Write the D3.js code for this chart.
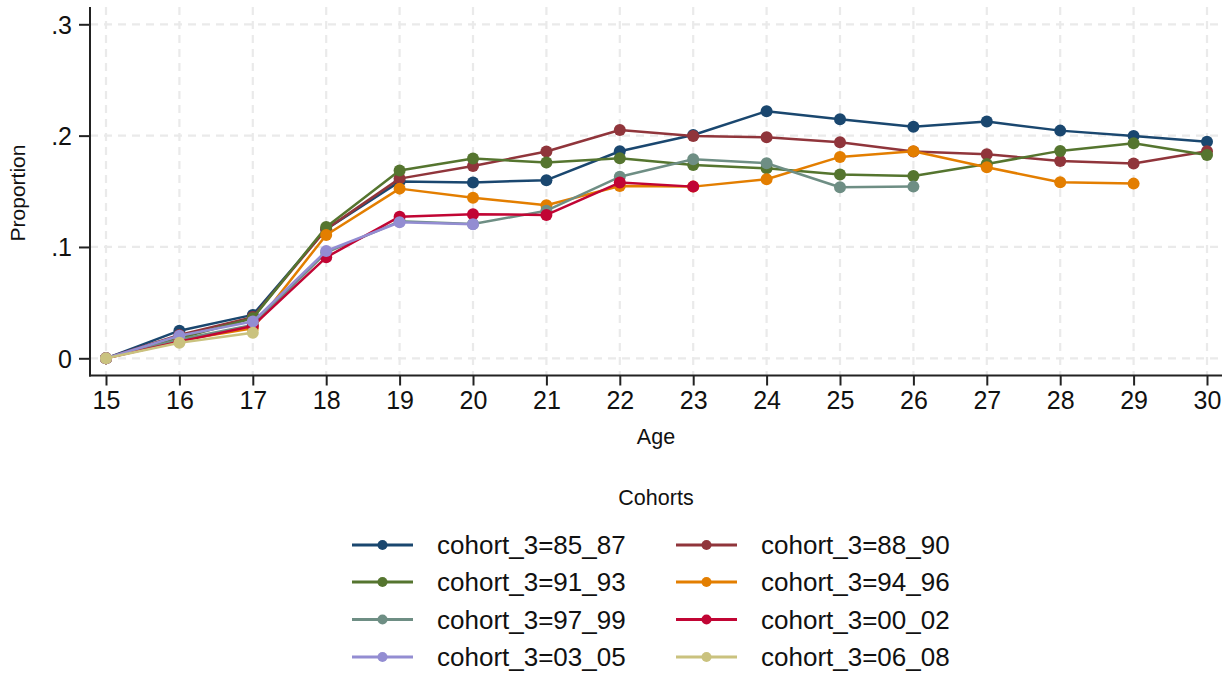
<!DOCTYPE html>
<html>
<head>
<meta charset="utf-8">
<script src="https://cdn.jsdelivr.net/npm/d3@7"></script>
<style>
  html, body { margin: 0; padding: 0; background: #fff; }
  svg { display: block; font-family: "Liberation Sans", Arial, sans-serif; }
</style>
</head>
<body>
<svg id="chart" width="1227" height="675"></svg>
<script>
// Ages on the horizontal axis
const ages = [15, 16, 17, 18, 19, 20, 21, 22, 23, 24, 25, 26, 27, 28, 29, 30];

// Proportion by age, one array per birth cohort (null = not observed)
const c85_87 = [0, 0.0248, 0.039, 0.116, 0.1587, 0.158, 0.160, 0.186, 0.2006, 0.222, 0.2147, 0.208, 0.2126, 0.2045, 0.1997, 0.1946];
const c88_90 = [0, 0.021, 0.037, 0.116, 0.1614, 0.1728, 0.1857, 0.205, 0.1997, 0.1985, 0.194, 0.1857, 0.1833, 0.1773, 0.175, 0.186];
const c91_93 = [0, 0.018, 0.036, 0.118, 0.1686, 0.1794, 0.1758, 0.1797, 0.1737, 0.1707, 0.165, 0.1638, 0.1746, 0.1863, 0.1932, 0.1827];
const c94_96 = [0, 0.016, 0.027, 0.1108, 0.1524, 0.1443, 0.1375, 0.1548, 0.1542, 0.1608, 0.1809, 0.186, 0.1716, 0.1581, 0.1569, null];
const c97_99 = [0, 0.017, 0.030, 0.095, 0.123, 0.1206, 0.1326, 0.163, 0.1788, 0.1752, 0.1536, 0.1542, null, null, null, null];
const c00_02 = [0, 0.015, 0.029, 0.0907, 0.1272, 0.1294, 0.1288, 0.1578, 0.1542, null, null, null, null, null, null, null];
const c03_05 = [0, 0.0203, 0.033, 0.0964, 0.1222, 0.1204, null, null, null, null, null, null, null, null, null, null];
const c06_08 = [0, 0.014, 0.023, null, null, null, null, null, null, null, null, null, null, null, null, null];

const cohortLabels = ["cohort_3=85_87", "cohort_3=88_90", "cohort_3=91_93", "cohort_3=94_96",
                      "cohort_3=97_99", "cohort_3=00_02", "cohort_3=03_05", "cohort_3=06_08"];
const cohortColors = ["#1a476f", "#90353b", "#55752f", "#e37e00",
                      "#6e8e84", "#c10534", "#938dd2", "#cac27e"];
const cohortValues = [c85_87, c88_90, c91_93, c94_96, c97_99, c00_02, c03_05, c06_08];

// Y-axis ticks and their labels
const yTicks = [0, 0.1, 0.2, 0.3];
const yTickLabels = ["0", ".1", ".2", ".3"];

const svg = d3.select("#chart");

const plot = { left: 90, right: 1222, top: 7, bottom: 375.5 };
const x = d3.scaleLinear().domain([15, 30]).range([106, 1207]);
const y = d3.scaleLinear().domain([0, 0.3]).range([358.3, 24.3]);

const gridColor = "#eaeaea";

// Dashed grid
const grid = svg.append("g");
grid.selectAll("line.gy").data(yTicks).join("line")
  .attr("x1", plot.left).attr("x2", plot.right)
  .attr("y1", d => y(d)).attr("y2", d => y(d))
  .attr("stroke", gridColor).attr("stroke-width", 2.2)
  .attr("stroke-dasharray", "8,6");
grid.selectAll("line.gx").data(ages).join("line")
  .attr("x1", d => x(d)).attr("x2", d => x(d))
  .attr("y1", plot.top).attr("y2", plot.bottom)
  .attr("stroke", gridColor).attr("stroke-width", 2.2)
  .attr("stroke-dasharray", "8,6");

// Axes
const xAxis = svg.append("g")
  .attr("transform", `translate(0,${plot.bottom})`)
  .call(d3.axisBottom(x).tickValues(ages).tickFormat(d3.format("d")).tickSize(10).tickSizeOuter(0).tickPadding(6));
const yAxis = svg.append("g")
  .attr("transform", `translate(${plot.left},0)`)
  .call(d3.axisLeft(y).tickValues(yTicks).tickFormat((d, i) => yTickLabels[i]).tickSize(11).tickSizeOuter(0).tickPadding(7));

[xAxis, yAxis].forEach(g => {
  g.select(".domain").remove();
  g.selectAll(".tick line").attr("stroke", "#222").attr("stroke-width", 2);
  g.selectAll(".tick text").attr("fill", "#111").style("font-size", "25px")
    .style("font-family", "'Liberation Sans', Arial, sans-serif");
});
yAxis.selectAll(".tick text").attr("dy", "0.36em");

svg.append("line")
  .attr("x1", plot.left).attr("x2", plot.left)
  .attr("y1", plot.top).attr("y2", plot.bottom + 1)
  .attr("stroke", "#222").attr("stroke-width", 2);
svg.append("line")
  .attr("x1", plot.left - 1).attr("x2", plot.right)
  .attr("y1", plot.bottom).attr("y2", plot.bottom)
  .attr("stroke", "#222").attr("stroke-width", 2);

// Axis titles
svg.append("text")
  .attr("x", 656).attr("y", 444)
  .attr("text-anchor", "middle").style("font-size", "21.5px").attr("fill", "#111")
  .text("Age");
svg.append("text")
  .attr("transform", "translate(25,193) rotate(-90)")
  .attr("text-anchor", "middle").style("font-size", "21px").attr("fill", "#111")
  .text("Proportion");

// Series lines and markers
const line = d3.line()
  .defined(d => d.v !== null)
  .x(d => x(d.age)).y(d => y(d.v));

cohortValues.forEach((vals, i) => {
  const pts = ages.map((a, j) => ({ age: a, v: vals[j] }));
  const g = svg.append("g");
  g.append("path")
    .datum(pts)
    .attr("d", line)
    .attr("fill", "none")
    .attr("stroke", cohortColors[i])
    .attr("stroke-width", 2.5)
    .attr("stroke-linejoin", "round");
  g.selectAll("circle")
    .data(pts.filter(d => d.v !== null))
    .join("circle")
    .attr("cx", d => x(d.age)).attr("cy", d => y(d.v))
    .attr("r", 6)
    .attr("fill", cohortColors[i]);
});

// Legend
svg.append("text")
  .attr("x", 656).attr("y", 505)
  .attr("text-anchor", "middle").style("font-size", "21.5px").attr("fill", "#111")
  .text("Cohorts");

const legendRows = [545, 582, 619.5, 657];
const legendCols = [352, 676];
cohortLabels.forEach((lab, i) => {
  const cx = legendCols[i % 2];
  const cy = legendRows[Math.floor(i / 2)];
  const g = svg.append("g").attr("transform", `translate(${cx},${cy})`);
  g.append("line").attr("x1", 0).attr("x2", 61).attr("y1", 0).attr("y2", 0)
    .attr("stroke", cohortColors[i]).attr("stroke-width", 2.8);
  g.append("circle").attr("cx", 30.5).attr("cy", 0).attr("r", 5)
    .attr("fill", cohortColors[i]);
  g.append("text").attr("x", 85).attr("y", 0).attr("dy", "0.36em")
    .style("font-size", "26px").attr("fill", "#111")
    .text(lab);
});
</script>
</body>
</html>
